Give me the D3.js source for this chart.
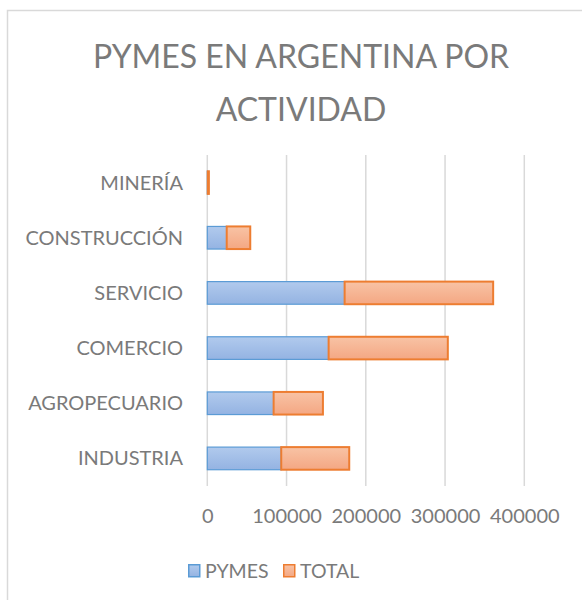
<!DOCTYPE html>
<html>
<head>
<meta charset="utf-8">
<script src="https://cdn.jsdelivr.net/npm/d3@7"></script>
<style>
  body { margin: 0; background: #fff; }
  text { font-family: Lato, "Open Sans", sans-serif; fill: #7a7a7a; }
</style>
</head>
<body>
<svg id="chart" width="582" height="600"></svg>
<script>
// data, bottom-to-top as in the sheet
var categories = ["INDUSTRIA", "AGROPECUARIO", "COMERCIO", "SERVICIO", "CONSTRUCCIÓN", "MINERÍA"];
var pymes = [93300, 83700, 153100, 173300, 24500, 600];
var total = [85800, 62200, 150400, 187400, 29700, 1400];
var tick_values = [0, 100000, 200000, 300000, 400000];
var series_names = ["PYMES", "TOTAL"];

var svg = d3.select("#chart");

// gradients
var defs = svg.append("defs");
function gradient(id, top, bottom)
{
  let g = defs.append("linearGradient").attr("id", id)
    .attr("x1", 0).attr("y1", 0).attr("x2", 0).attr("y2", 1);
  g.append("stop").attr("offset", "0%").attr("stop-color", top);
  g.append("stop").attr("offset", "100%").attr("stop-color", bottom);
}
gradient("grad-blue", "#b1caed", "#94b3e2");
gradient("grad-orange", "#f8c3a5", "#f4a783");

var fills = ["url(#grad-blue)", "url(#grad-orange)"];
var strokes = ["#5b9bd5", "#ed7d31"];
var stroke_w = [1.2, 2];

// chart frame
svg.append("rect")
  .attr("x", 7.5).attr("y", 10.5)
  .attr("width", 700).attr("height", 700)
  .attr("fill", "#fff").attr("stroke", "#d9d9d9").attr("stroke-width", 1.5);

// title
var title = svg.append("text")
  .attr("text-anchor", "middle")
  .style("font-size", "32px");
title.append("tspan").attr("x", 301).attr("y", 68).text("PYMES EN ARGENTINA POR");
title.append("tspan").attr("x", 301).attr("y", 121).text("ACTIVIDAD");

// scales
var x = d3.scaleLinear().domain([0, 400000]).range([207.3, 524.3]);
var y = d3.scaleBand()
  .domain(categories.slice().reverse())
  .range([155, 486])
  .paddingInner(0.59)
  .paddingOuter(0.295);

// gridlines
svg.append("g").selectAll("line")
  .data(tick_values)
  .enter()
  .append("line")
  .attr("x1", d => x(d)).attr("x2", d => x(d))
  .attr("y1", 155).attr("y2", 486)
  .attr("stroke", "#d9d9d9").attr("stroke-width", 1.5);

// stacked bars
var rows = categories.map(function(c, i) { return {cat: c, vals: [pymes[i], total[i]]}; });
var stack = d3.stack().keys([0, 1]).value((d, k) => d.vals[k]);
var layers = stack(rows);

var layer_g = svg.append("g").selectAll("g")
  .data(layers)
  .enter()
  .append("g")
  .attr("fill", (d, i) => fills[i])
  .attr("stroke", (d, i) => strokes[i])
  .attr("stroke-width", (d, i) => stroke_w[i]);

layer_g.selectAll("rect")
  .data(d => d)
  .enter()
  .append("rect")
  .attr("x", d => x(d[0]))
  .attr("width", d => Math.max(0, x(d[1]) - x(d[0])))
  .attr("y", d => y(d.data.cat))
  .attr("height", y.bandwidth());

// category labels
svg.append("g").selectAll("text")
  .data(categories)
  .enter()
  .append("text")
  .attr("x", 183)
  .attr("y", d => y(d) + y.bandwidth() / 2)
  .attr("dy", "0.35em")
  .attr("text-anchor", "end")
  .style("font-size", "20px")
  .text(d => d);

// x axis
var axis = d3.axisBottom(x).tickValues(tick_values).tickFormat(d3.format("d")).tickSize(0).tickPadding(0);
var ax = svg.append("g").attr("transform", "translate(0,509)").call(axis);
ax.select(".domain").remove();
ax.selectAll("text")
  .attr("dy", "0.72em")
  .attr("fill", null)
  .style("font-size", "20px");

// legend
var legend_x = [188, 283];
var legend = svg.append("g").selectAll("g")
  .data(series_names)
  .enter()
  .append("g")
  .attr("transform", (d, i) => "translate(" + legend_x[i] + ",564)");
legend.append("rect")
  .attr("x", 0.75).attr("y", 0.75)
  .attr("width", 11).attr("height", 12)
  .attr("fill", (d, i) => fills[i])
  .attr("stroke", (d, i) => strokes[i])
  .attr("stroke-width", 1.5);
legend.append("text")
  .attr("x", 17).attr("y", 14)
  .style("font-size", "19.5px")
  .text(d => d);
</script>
</body>
</html>
